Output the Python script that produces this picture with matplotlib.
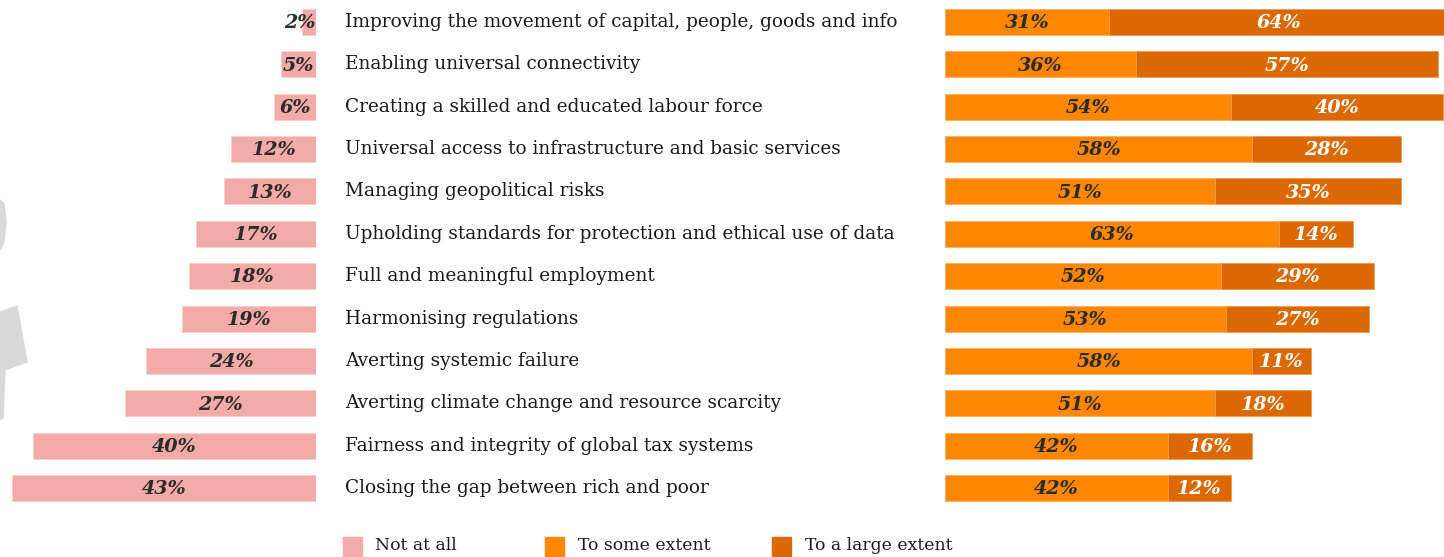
import matplotlib.pyplot as plt
from matplotlib.patches import Polygon, Rectangle

# survey: how much does each area need attention
categories = [
    "Improving the movement of capital, people, goods and info",
    "Enabling universal connectivity",
    "Creating a skilled and educated labour force",
    "Universal access to infrastructure and basic services",
    "Managing geopolitical risks",
    "Upholding standards for protection and ethical use of data",
    "Full and meaningful employment",
    "Harmonising regulations",
    "Averting systemic failure",
    "Averting climate change and resource scarcity",
    "Fairness and integrity of global tax systems",
    "Closing the gap between rich and poor",
]
not_at_all = [2, 5, 6, 12, 13, 17, 18, 19, 24, 27, 40, 43]
some_extent = [31, 36, 54, 58, 51, 63, 52, 53, 58, 51, 42, 42]
large_extent = [64, 57, 40, 28, 35, 14, 29, 27, 11, 18, 16, 12]
legend_labels = ["Not at all", "To some extent", "To a large extent"]

PINK = "#F2ABA6"
ORANGE = "#FD8700"
DARK_ORANGE = "#DB6800"
TEXT = "#2B2B2B"

W, H = 1444, 557
fig = plt.figure(figsize=(W / 100, H / 100), dpi=100)

serif = "DejaVu Serif"
pct_size = 13.8

# faint grey decoration on the far left
for pts in [
    [(0, 200), (4, 204), (6, 222), (4, 242), (0, 250)],
    [(0, 312), (17, 306), (27, 362), (5, 370), (3, 418), (0, 420)],
]:
    fig.patches.append(Polygon([(x / W, 1 - y / H) for x, y in pts], closed=True,
                               transform=fig.transFigure, color="#D9D9D9", zorder=0))

row0, step = 22, 42.36
ylim = ((H - row0) / step, -row0 / step)
ys = range(len(categories))
bar_h = 26 / step

# left panel, bars grow leftward
axl = fig.add_axes([0, 0, 316 / W, 1])
axl.barh(ys, not_at_all, height=bar_h, color=PINK, edgecolor="#F8D0CC", linewidth=0.6)
axl.set_xlim(316 / 7.07, 0)
axl.set_ylim(*ylim)
axl.axis("off")
for y, v in zip(ys, not_at_all):
    axl.text(max(v / 2, 2.3), y + 0.03, f"{v}%", ha="center", va="center",
             fontsize=pct_size, family=serif, weight="bold", style="italic", color=TEXT)

# right panel, stacked bars
axr = fig.add_axes([945 / W, 0, 1 - 945 / W, 1])
axr.barh(ys, some_extent, height=bar_h, color=ORANGE, edgecolor="#FFB060", linewidth=0.6)
axr.barh(ys, large_extent, left=some_extent, height=bar_h, color=DARK_ORANGE,
         edgecolor="#F09A50", linewidth=0.6)
axr.set_xlim(0, (W - 945) / 5.3)
axr.set_ylim(*ylim)
axr.axis("off")
for y, a, b in zip(ys, some_extent, large_extent):
    axr.text(a / 2, y + 0.03, f"{a}%", ha="center", va="center", fontsize=pct_size,
             family=serif, weight="bold", style="italic", color=TEXT)
    axr.text(a + b / 2, y + 0.03, f"{b}%", ha="center", va="center", fontsize=pct_size,
             family=serif, weight="bold", style="italic", color="white")

# category names between the panels
for i, name in enumerate(categories):
    fig.text(345 / W, 1 - (row0 + i * step) / H, name, ha="left", va="center",
             fontsize=13.35, family=serif, color="#1A1A1A")

# legend along the bottom
for (bx, tx), lab, col in zip([(343, 375), (545, 578), (772, 805)], legend_labels,
                              [PINK, ORANGE, DARK_ORANGE]):
    fig.patches.append(Rectangle((bx / W, 1 - 556 / H), 19 / W, 19 / H,
                                 transform=fig.transFigure, color=col))
    fig.text(tx / W, 1 - 546 / H, lab, ha="left", va="center", fontsize=12.4,
             family=serif, color="#1A1A1A")

fig.savefig("out.png", dpi=100)
